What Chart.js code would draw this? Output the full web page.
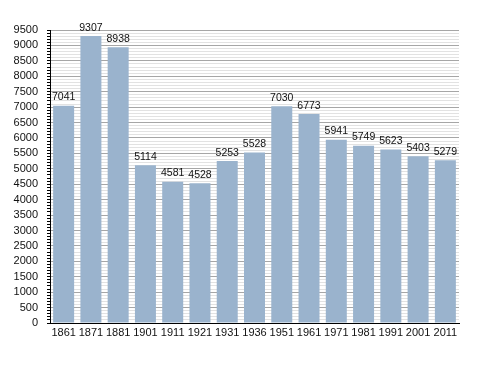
<!DOCTYPE html>
<html lang="en">
<head>
<meta charset="UTF-8">
<title>Population</title>
<script src="https://cdn.jsdelivr.net/npm/chart.js@4"></script>
<style>
  html, body { margin: 0; padding: 0; background: #fff; }
</style>
</head>
<body>
<canvas id="chart" width="488" height="373"></canvas>
<script>
    const years = ["1861", "1871", "1881", "1901", "1911", "1921", "1931", "1936", "1951", "1961", "1971", "1981", "1991", "2001", "2011"];
    const population = [7041, 9307, 8938, 5114, 4581, 4528, 5253, 5528, 7030, 6773, 5941, 5749, 5623, 5403, 5279];
    const yMax = 9500;
    const majorStep = 500;
    const minorStep = 100;

    const FONT = "'Liberation Sans', Arial, sans-serif";

    // value labels on top of each bar
    const valueLabels = {
        id: 'valueLabels',
        afterDatasetsDraw(chart) {
            const ctx = chart.ctx;
            const meta = chart.getDatasetMeta(0);
            ctx.save();
            ctx.font = "10.5px " + FONT;
            ctx.fillStyle = '#111';
            ctx.textAlign = 'center';
            ctx.textBaseline = 'bottom';
            meta.data.forEach((bar, i) => {
                ctx.fillText(population[i], bar.x, bar.y - 3);
            });
            ctx.restore();
        }
    };

    new Chart(document.getElementById('chart'), {
        type: 'bar',
        data: {
            labels: years,
            datasets: [{
                data: population,
                backgroundColor: '#9ab3cd',
                borderWidth: 0,
                barPercentage: 0.77,
                categoryPercentage: 1
            }]
        },
        options: {
            responsive: false,
            animation: false,
            layout: { padding: { top: 30, right: 29, bottom: 29, left: 0 } },
            plugins: {
                legend: { display: false },
                tooltip: { enabled: false }
            },
            scales: {
                x: {
                    grid: { display: false, drawTicks: false },
                    border: { display: true, color: '#000', width: 1 },
                    ticks: { color: '#111', font: { family: FONT, size: 11 }, padding: 3, maxRotation: 0, autoSkip: false },
                    afterFit: s => { s.height = 21; }
                },
                y: {
                    min: 0,
                    max: yMax,
                    grid: {
                        color: c => (c.tick && c.tick.value % majorStep === 0) ? '#a6a6a6' : '#e2e2e2',
                        tickColor: '#000',
                        tickLength: 3
                    },
                    border: { display: true, color: '#000', width: 1 },
                    ticks: {
                        stepSize: minorStep,
                        autoSkip: false,
                        maxTicksLimit: 200,
                        padding: 9,
                        color: '#111',
                        font: { family: FONT, size: 11 },
                        callback: v => (v % majorStep === 0 ? v : '')
                    },
                    afterFit: s => { s.width = 50; }
                }
            }
        },
        plugins: [valueLabels]
    });
</script>
</body>
</html>
